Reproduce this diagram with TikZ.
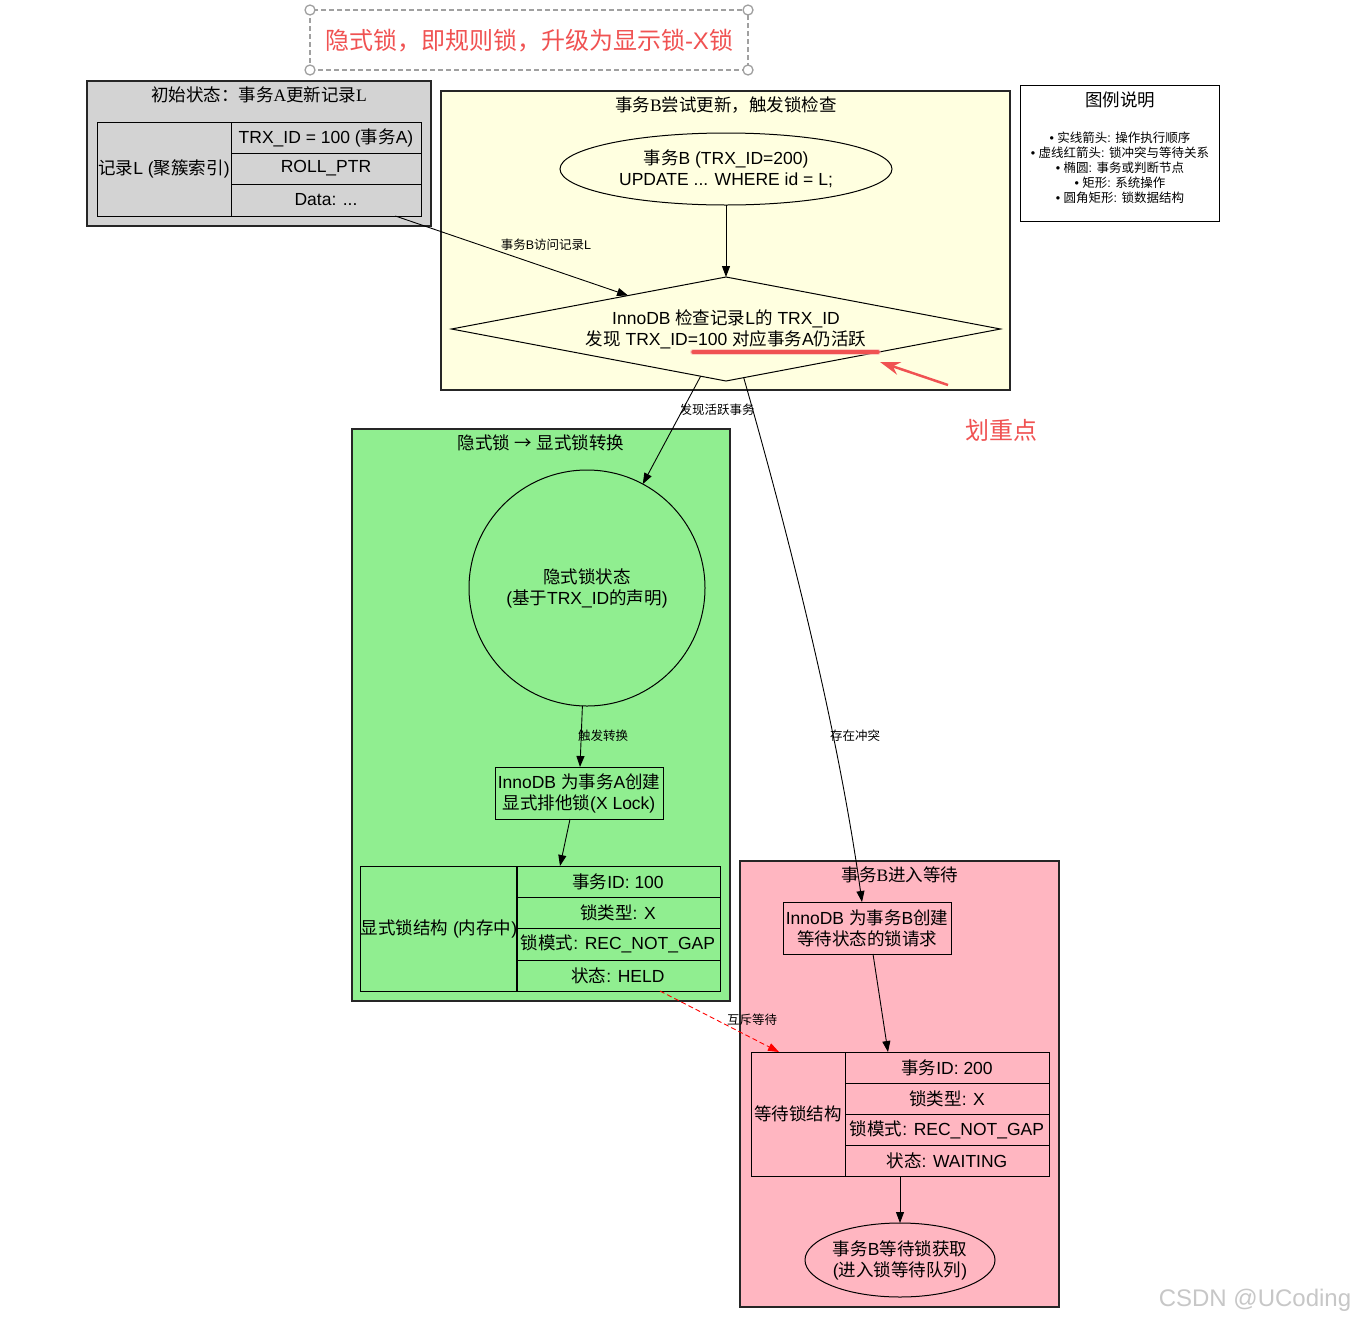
\documentclass[tikz,border=0pt]{standalone}
\usepackage{fontspec}
\setmainfont{Liberation Sans}
\newfontfamily\cjkfont{Noto Sans CJK SC}
\newfontfamily\latinsans{Liberation Sans}
\newfontfamily\latinserif{Liberation Serif}
\usetikzlibrary{shapes.geometric,arrows.meta,calc}
\def\mylatin{\latinsans}
\XeTeXinterchartokenstate=1
\newXeTeXintercharclass\cjkcls
\newcount\cjkcnt
\def\setcjkrange#1#2{\cjkcnt=#1\relax\loop\XeTeXcharclass\cjkcnt=\cjkcls\relax\advance\cjkcnt by 1\relax\ifnum\cjkcnt<#2\relax\repeat}
\setcjkrange{"4E00}{"A000}
\setcjkrange{"3000}{"3040}
\setcjkrange{"FF00}{"FFF0}
\XeTeXcharclass"2192=\cjkcls\relax
\XeTeXinterchartoks 0 \cjkcls = {\cjkfont}
\XeTeXinterchartoks 4095 \cjkcls = {\cjkfont}
\XeTeXinterchartoks \cjkcls 0 = {\mylatin}
\XeTeXinterchartoks \cjkcls 4095 = {\mylatin}
\newcommand\fs[1]{\fontsize{#1}{21}\selectfont}
\definecolor{grayc}{HTML}{D3D3D3}
\definecolor{yellowc}{HTML}{FFFFE0}
\definecolor{greenc}{HTML}{90EE90}
\definecolor{pinkc}{HTML}{FFB6C1}
\definecolor{redmark}{RGB}{240,82,82}
\definecolor{handlec}{RGB}{160,160,160}
\begin{document}
\begin{tikzpicture}[x=1pt,y=-1pt,
 every node/.style={inner sep=0pt, outer sep=0pt},
 cl/.style={draw=black!85, line width=1.2pt},
 ctitle/.style={font={\def\mylatin{\latinserif}\latinserif\fs{17.5}}},
 tx/.style={font=\fs{17.5}, align=center},
 cell/.style={draw, line width=1pt, font=\fs{17.5}, align=center},
 elab/.style={font=\fs{12.5}},
 arr/.style={-{Triangle[length=11pt,width=8pt]}, line width=0.9pt},
 handle/.style={circle, draw=handlec, fill=white, line width=1.3pt, minimum size=10pt},
]
\useasboundingbox[fill=white] (0,0) rectangle (1358,1323);

% title box
\node[draw=handlec, dash pattern=on 5pt off 3pt, line width=1.3pt, minimum width=438, minimum height=60] (tbox) at (529,40) {};
\foreach \c in {north west, north east, south west, south east}
  \node[handle] at (tbox.\c) {};
\node[font=\fs{24}, text=redmark] (ttl) at (529,41) {隐式锁，即规则锁，升级为显示锁-X锁};

% clusters
\node[cl, fill=grayc, minimum width=344, minimum height=145] (cA) at (259,153.5) {};
\node[cl, fill=yellowc, minimum width=569, minimum height=299] (cB) at (725.5,240.5) {};
\node[cl, fill=greenc, minimum width=378, minimum height=572] (cC) at (541,715) {};
\node[cl, fill=pinkc, minimum width=319, minimum height=446] (cD) at (899.5,1084) {};
\node[draw, line width=1pt, fill=white, minimum width=199, minimum height=136] (leg) at (1119.5,153) {};

\node[ctitle] (tA) at (259,95) {初始状态：事务A更新记录L};
\node[ctitle] (tB) at (726,105) {事务B尝试更新，触发锁检查};
\node[ctitle] (tC) at (541,443) {隐式锁 → 显式锁转换};
\node[ctitle] (tD) at (900,875) {事务B进入等待};
\node[ctitle] (tL) at (1120,100) {图例说明};
\node[font=\fontsize{12.5}{15}\selectfont, align=center] (legtxt) at (1120,168)
 {• 实线箭头: 操作执行顺序\\• 虚线红箭头: 锁冲突与等待关系\\• 椭圆: 事务或判断节点\\• 矩形: 系统操作\\• 圆角矩形: 锁数据结构};

% record table
\node[cell, minimum width=134, minimum height=94] (rec) at (164,169) {记录L (聚簇索引)};
\node[cell, minimum width=190, minimum height=31] (trx) at (326,137.5) {TRX\_ID = 100 (事务A)};
\node[cell, minimum width=190, minimum height=31] (roll) at (326,168.5) {ROLL\_PTR};
\node[cell, minimum width=190, minimum height=32] (data) at (326,200) {Data: ...};

% transaction B
\node[ellipse, draw, line width=1pt, minimum width=332, minimum height=72, tx] (txB) at (726,169) {事务B (TRX\_ID=200)\\UPDATE ... WHERE id = L;};
\node[diamond, draw, line width=1pt, aspect=5.28, minimum width=549, minimum height=104, tx] (chk) at (726,329)
 {InnoDB 检查记录L的 TRX\_ID\\发现 TRX\_ID=100 对应事务A仍活跃};

% green
\node[circle, draw, line width=1pt, minimum size=236, tx] (circ) at (587,588) {隐式锁状态\\(基于TRX\_ID的声明)};
\node[draw, line width=1pt, minimum width=168, minimum height=52, tx] (boxA) at (579,793) {InnoDB 为事务A创建\\显式排他锁(X Lock)};
\node[cell, minimum width=154, minimum height=125] (lk0) at (439,928.5) {显式锁结构 (内存中)};
\node[cell, minimum width=204, minimum height=31] (lk1) at (618,881.5) {事务ID: 100};
\node[cell, minimum width=204, minimum height=31] (lk2) at (618,912.5) {锁类型: X};
\node[cell, minimum width=204, minimum height=32] (lk3) at (618,944) {锁模式: REC\_NOT\_GAP};
\node[cell, minimum width=204, minimum height=31] (lk4) at (618,975.5) {状态: HELD};

% pink
\node[draw, line width=1pt, minimum width=168, minimum height=52, tx] (boxB) at (867,928) {InnoDB 为事务B创建\\等待状态的锁请求};
\node[cell, minimum width=94, minimum height=124] (wk0) at (798,1114) {等待锁结构};
\node[cell, minimum width=204, minimum height=31] (wk1) at (947,1067.5) {事务ID: 200};
\node[cell, minimum width=204, minimum height=31] (wk2) at (947,1098.5) {锁类型: X};
\node[cell, minimum width=204, minimum height=31] (wk3) at (947,1129.5) {锁模式: REC\_NOT\_GAP};
\node[cell, minimum width=204, minimum height=31] (wk4) at (947,1160.5) {状态: WAITING};
\node[ellipse, draw, line width=1pt, minimum width=190, minimum height=74, tx] (waitE) at (900,1260) {事务B等待锁获取\\(进入锁等待队列)};

% edges
\draw[arr] (data.-13) -- (chk);
\node[elab] (l1) at (546,245) {事务B访问记录L};
\draw[arr] (txB) -- (chk.north);
\draw[arr] (chk) -- (circ);
\node[elab] (l2) at (717,410) {发现活跃事务};
\draw[arr] (chk.-70) .. controls (790,540) and (838,730) .. ($(boxB.north)+(-5,0)$);
\node[elab] (l3) at (855,736) {存在冲突};
\draw[arr] (circ) -- (boxA);
\node[elab] (l4) at (603,736) {触发转换};
\draw[arr] (boxA.-109) -- ($(lk1.north west)+(44,0)$);
\draw[-{Triangle[length=11pt,width=8pt]}, red, dash pattern=on 5pt off 3pt, line width=0.9pt] ($(lk4.south)+(42,0)$) -- ($(wk0.north)+(-19,0)$);
\node[elab] (l5) at (752,1020) {互斥等待};
\draw[arr] ($(boxB.south)+(6,0)$) -- ($(wk1.north)+(-59,0)$);
\draw[arr] ($(wk4.south)+(-47,0)$) -- (waitE.north);

% annotation
\draw[redmark!45, line width=6pt, line cap=round, opacity=0.6] (693,352) -- (878,352);
\draw[redmark, line width=3.5pt, line cap=round] (693,352) -- (878,352);
\draw[redmark, line width=2.5pt, -{Stealth[length=20pt,width=13pt]}] (948,385) -- (880,362);
\node[font=\fs{24}, text=redmark] (hl) at (1001,430) {划重点};

% watermark
\node[font=\fs{24}, text=black!22] (wm) at (1255,1300) {CSDN @UCoding};
\end{tikzpicture}
\end{document}
